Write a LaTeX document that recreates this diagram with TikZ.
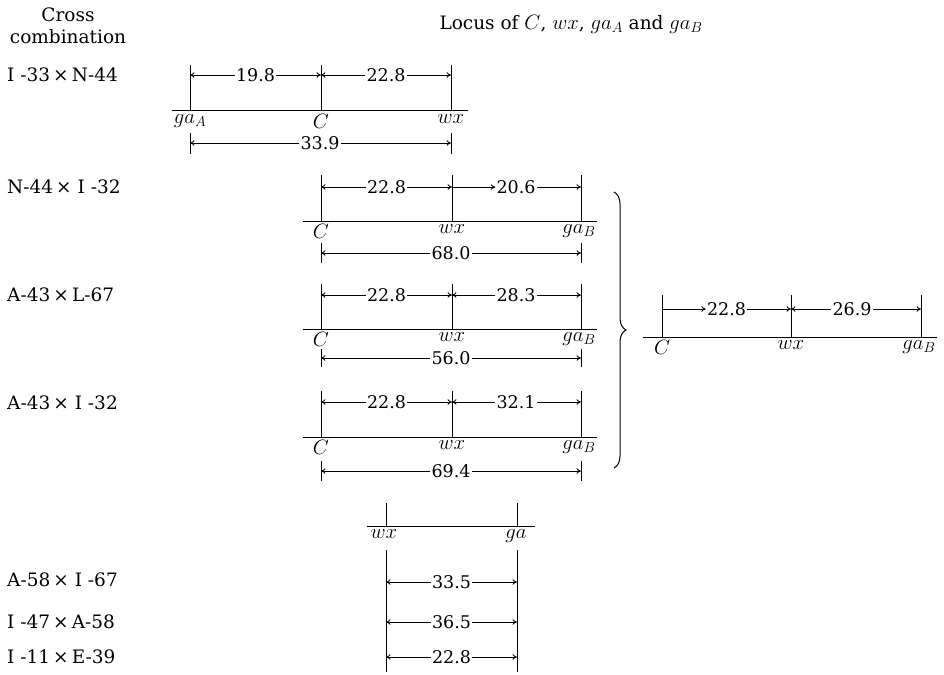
\documentclass[tikz,border=0pt]{standalone}
\usepackage{fontspec}
\setmainfont{DejaVu Serif}
\usetikzlibrary{arrows.meta,decorations.pathreplacing}
\newcommand\hdrmath[1]{{\fontsize{22}{22}\selectfont$#1$}}
\tikzset{
  hdr/.style={font=\fontsize{18.5}{22}\selectfont, inner sep=0pt},
  rowlbl/.style={font=\fontsize{18.5}{20}\selectfont, inner sep=0pt, anchor=west},
  num/.style={font=\fontsize{17.5}{20}\selectfont, inner sep=1pt},
  ptl/.style={font=\fontsize{21}{22}\selectfont, inner sep=0pt, anchor=north},
  ln/.style={line width=1pt},
  tick/.style={line width=1pt},
  dimarr/.style={line width=0.8pt, -{To[length=4.5pt,width=5.5pt]}},
}
\begin{document}
\begin{tikzpicture}[x=1pt,y=-1pt]
\useasboundingbox (0,0) rectangle (944,674);
% headers
\node[hdr, align=center] (hcross) at (68,26) {Cross\\combination};
\node[hdr] (hlocus) at (571,24) {Locus of \hdrmath{C}, \hdrmath{wx}, \hdrmath{ga_A} and \hdrmath{ga_B}};
% row labels
\node[rowlbl] (l1) at (7,75) {I -33\,×\,N-44};
\node[rowlbl] (l2) at (7,187) {N-44\,× I -32};
\node[rowlbl] (l3) at (7,295) {A-43\,×\,L-67};
\node[rowlbl] (l4) at (7,403) {A-43\,× I -32};
\node[rowlbl] (l5) at (7,580) {A-58\,× I -67};
\node[rowlbl] (l6) at (7,622) {I -47\,×\,A-58};
\node[rowlbl] (l7) at (7,657) {I -11\,×\,E-39};

% ---------- row 1 ----------
\coordinate (a1) at (190,111); \coordinate (c1) at (321,111); \coordinate (w1) at (451,111);
\draw[ln] (172,111) -- (468,111);
\draw[tick] (a1) -- (190,65); \draw[tick] (c1) -- (321,65); \draw[tick] (w1) -- (451,65);
\node[ptl] (pa1) at (190,114) {$ga_A$};
\node[ptl] (pc1) at (321,114) {$C$};
\node[ptl] (pw1) at (451,114) {$wx$};
\node[num] (n11) at (255.5,75) {19.8};
\draw[dimarr] (n11.west) -- (n11.west -| a1); \draw[dimarr] (n11.east) -- (n11.east -| c1);
\node[num] (n12) at (386,75) {22.8};
\draw[dimarr] (n12.west) -- (n12.west -| c1); \draw[dimarr] (n12.east) -- (n12.east -| w1);
\node[num] (n13) at (320,143) {33.9};
\draw[tick] (190,133) -- (190,154); \draw[tick] (451,133) -- (451,154);
\draw[dimarr] (n13.west) -- (n13.west -| a1); \draw[dimarr] (n13.east) -- (n13.east -| w1);

% ---------- row 2 ----------
\coordinate (c2) at (321,221); \coordinate (w2) at (452,221); \coordinate (g2) at (581,221);
\draw[ln] (303,221) -- (597,221);
\draw[tick] (c2) -- (321,175); \draw[tick] (w2) -- (452,175); \draw[tick] (g2) -- (581,175);
\node[ptl] (pc2) at (321,224) {$C$};
\node[ptl] (pw2) at (452,224) {$wx$};
\node[ptl] (pg2) at (579,224) {$ga_B$};
\node[num] (n21) at (386.5,187) {22.8};
\draw[dimarr] (n21.west) -- (n21.west -| c2); \draw[dimarr] (n21.east) -- (n21.east -| w2);
\node[num] (n22) at (516,187) {20.6};
\draw[dimarr] (n22.west -| w2) -- (n22.west); \draw[dimarr] (n22.east) -- (n22.east -| g2);
\node[num] (n23) at (451,253) {68.0};
\draw[tick] (321,243) -- (321,263); \draw[tick] (581,243) -- (581,263);
\draw[dimarr] (n23.west) -- (n23.west -| c2); \draw[dimarr] (n23.east) -- (n23.east -| g2);

% ---------- row 3 ----------
\coordinate (c3) at (321,329); \coordinate (w3) at (452,329); \coordinate (g3) at (581,329);
\draw[ln] (303,329) -- (597,329);
\draw[tick] (c3) -- (321,284); \draw[tick] (w3) -- (452,284); \draw[tick] (g3) -- (581,284);
\node[ptl] (pc3) at (321,332) {$C$};
\node[ptl] (pw3) at (452,332) {$wx$};
\node[ptl] (pg3) at (579,332) {$ga_B$};
\node[num] (n31) at (386.5,295) {22.8};
\draw[dimarr] (n31.west) -- (n31.west -| c3); \draw[dimarr] (n31.east) -- (n31.east -| w3);
\node[num] (n32) at (516,295) {28.3};
\draw[dimarr] (n32.west) -- (n32.west -| w3); \draw[dimarr] (n32.east) -- (n32.east -| g3);
\node[num] (n33) at (451,358) {56.0};
\draw[tick] (321,349) -- (321,367); \draw[tick] (581,349) -- (581,367);
\draw[dimarr] (n33.west) -- (n33.west -| c3); \draw[dimarr] (n33.east) -- (n33.east -| g3);

% ---------- row 4 ----------
\coordinate (c4) at (321,437); \coordinate (w4) at (452,437); \coordinate (g4) at (581,437);
\draw[ln] (303,437) -- (597,437);
\draw[tick] (c4) -- (321,391); \draw[tick] (w4) -- (452,391); \draw[tick] (g4) -- (581,391);
\node[ptl] (pc4) at (321,440) {$C$};
\node[ptl] (pw4) at (452,440) {$wx$};
\node[ptl] (pg4) at (579,440) {$ga_B$};
\node[num] (n41) at (386.5,402) {22.8};
\draw[dimarr] (n41.west) -- (n41.west -| c4); \draw[dimarr] (n41.east) -- (n41.east -| w4);
\node[num] (n42) at (516,402) {32.1};
\draw[dimarr] (n42.west) -- (n42.west -| w4); \draw[dimarr] (n42.east) -- (n42.east -| g4);
\node[num] (n43) at (451,471) {69.4};
\draw[tick] (321,461) -- (321,481); \draw[tick] (581,461) -- (581,481);
\draw[dimarr] (n43.west) -- (n43.west -| c4); \draw[dimarr] (n43.east) -- (n43.east -| g4);

% ---------- brace ----------
\coordinate (brt) at (614,192); \coordinate (brb) at (614,468);
\draw[line width=1pt, decorate, decoration={brace, amplitude=12pt}] (brt) -- (brb);

% ---------- right diagram ----------
\coordinate (cr) at (662,337); \coordinate (wr) at (791,337); \coordinate (gr) at (921,337);
\draw[ln] (643,337) -- (937,337);
\draw[tick] (cr) -- (662,295); \draw[tick] (wr) -- (791,295); \draw[tick] (gr) -- (921,295);
\node[ptl] (pcr) at (662,340) {$C$};
\node[ptl] (pwr) at (791,340) {$wx$};
\node[ptl] (pgr) at (919,340) {$ga_B$};
\node[num] (nr1) at (726.5,309) {22.8};
\draw[dimarr] (nr1.west -| cr) -- (nr1.west); \draw[dimarr] (nr1.east) -- (nr1.east -| wr);
\node[num] (nr2) at (852,309) {26.9};
\draw[dimarr] (nr2.west) -- (nr2.west -| wr); \draw[dimarr] (nr2.east) -- (nr2.east -| gr);

% ---------- bottom section ----------
\coordinate (wb) at (386,526); \coordinate (gb) at (517,526);
\draw[ln] (367,526) -- (535,526);
\draw[tick] (wb) -- (386,503); \draw[tick] (gb) -- (517,503);
\node[ptl] (pwb) at (384,529) {$wx$};
\node[ptl] (pgb) at (516,529) {$ga$};
\draw[tick] (386,550) -- (386,672); \draw[tick] (517,550) -- (517,672);
\node[num] (nb1) at (451.5,582) {33.5};
\draw[dimarr] (nb1.west) -- (nb1.west -| wb); \draw[dimarr] (nb1.east) -- (nb1.east -| gb);
\node[num] (nb2) at (451.5,622) {36.5};
\draw[dimarr] (nb2.west) -- (nb2.west -| wb); \draw[dimarr] (nb2.east) -- (nb2.east -| gb);
\node[num] (nb3) at (451.5,657) {22.8};
\draw[dimarr] (nb3.west) -- (nb3.west -| wb); \draw[dimarr] (nb3.east) -- (nb3.east -| gb);
\end{tikzpicture}
\end{document}
